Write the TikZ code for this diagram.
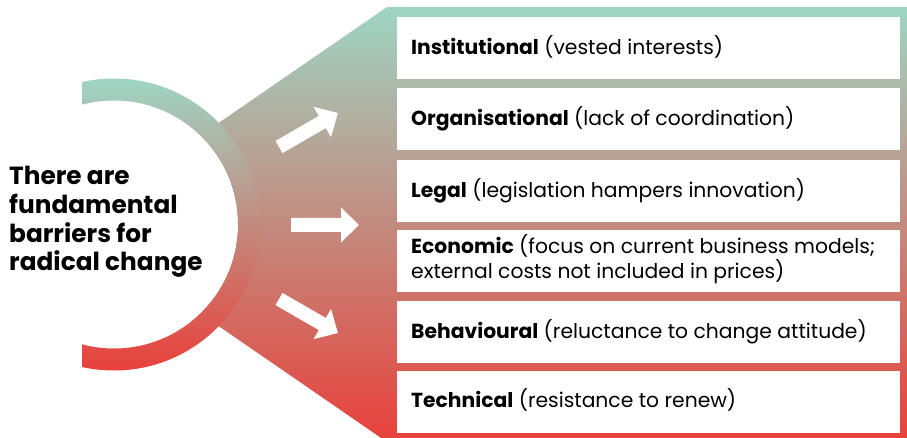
\documentclass[tikz,border=0pt]{standalone}
\usepackage{fontspec}
\setmainfont{Poppins}
\definecolor{cteal}{HTML}{9ED5C3}
\definecolor{cmid}{HTML}{CBA180}
\definecolor{cred}{HTML}{E8403A}
\tikzset{
  barbox/.style={fill=white, draw=none, minimum width=503pt, minimum height=62pt, inner sep=0pt, anchor=north west},
  bartext/.style={anchor=base west, inner sep=0pt, font=\fontsize{20.3}{25}\selectfont, align=left},
  maintext/.style={anchor=base west, inner sep=0pt, font=\fontsize{24.8}{28.7}\selectfont\bfseries, align=left},
  whitearrow/.style={fill=white, draw=none}
}
\begin{document}
\begin{tikzpicture}[x=1pt,y=-1pt]
\useasboundingbox (0,0) rectangle (907,438);
\coordinate (c) at (114,224.5);
% fan shape behind the boxes
\shade[top color=cteal, middle color=cmid, bottom color=cred]
  (150,160) -- (220,122) -- (387,7) -- (907,7) -- (907,442) -- (387,442) -- (220,327) -- (150,290) -- cycle;
% white inner disk
\fill[white] (c) circle[radius=124pt];
% ring, cut on the left
\begin{scope}
  \clip (82,0) rectangle (907,438);
  \shade[even odd rule, shading angle=-40, top color=cteal, middle color=cmid, bottom color=cred]
    (c) circle[radius=146pt] (c) circle[radius=124pt];
\end{scope}
% arrows
\foreach \sx/\sy/\ang [count=\i] in {279/147/30, 291/225/0, 279/299/-30}{
  \begin{scope}[shift={(\sx,\sy)}, rotate=\ang]
    \fill[whitearrow] (0,-7) -- (50,-7) -- (50,-17.5) -- (68,0) -- (50,17.5) -- (50,7) -- (0,7) -- cycle;
  \end{scope}
}
% boxes
\node[barbox] (b1) at (397,17) {};
\node[barbox] (b2) at (397,88) {};
\node[barbox] (b3) at (397,160) {};
\node[barbox] (b4) at (397,230) {};
\node[barbox] (b5) at (397,301) {};
\node[barbox] (b6) at (397,371) {};
% texts
\node[bartext] (t1) at (411,54.5) {\textbf{Institutional} (vested interests)};
\node[bartext] (t2) at (411,126) {\textbf{Organisational} (lack of coordination)};
\node[bartext] (t3) at (411,198) {\textbf{Legal} (legislation hampers innovation)};
\node[bartext] (t4) at (411,279) {\textbf{Economic} (focus on current business models;\\external costs not included in prices)};
\node[bartext] (t5) at (411,338) {\textbf{Behavioural} (reluctance to change attitude)};
\node[bartext] (t6) at (411,407) {\textbf{Technical} (resistance to renew)};
\node[maintext] (m) at (9,271) {There are\\fundamental\\barriers for\\radical change};
\end{tikzpicture}
\end{document}
